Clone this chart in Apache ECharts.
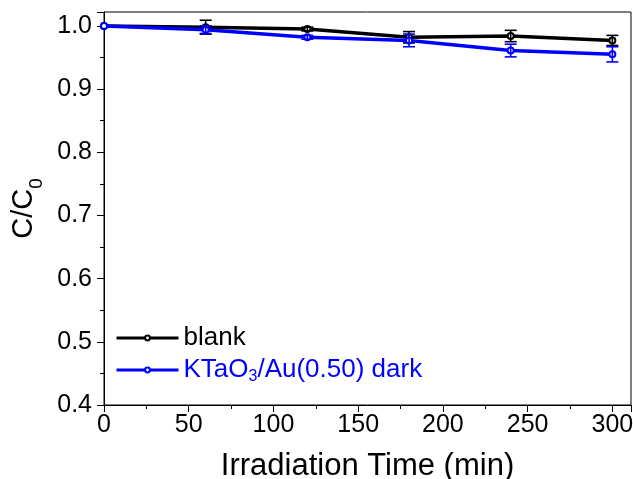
<!DOCTYPE html>
<html>
<head>
<meta charset="utf-8">
<script src="https://cdn.jsdelivr.net/npm/echarts@6/dist/echarts.min.js"></script>
<style>html,body{margin:0;padding:0;background:#fff}#c{width:633px;height:479px}</style>
</head>
<body>
<div id="c"></div>
<script>
const times = [0, 60, 120, 180, 240, 300];
const blankValues = [1.000, 0.998, 0.995, 0.982, 0.984, 0.977];
const blankErrors = [0.000, 0.011, 0.003, 0.009, 0.009, 0.008];
const ktaoValues = [1.000, 0.994, 0.982, 0.977, 0.961, 0.955];
const ktaoErrors = [0.000, 0.006, 0.003, 0.010, 0.010, 0.012];
const xTicks = [0, 50, 100, 150, 200, 250, 300];
const yTicks = [0.4, 0.5, 0.6, 0.7, 0.8, 0.9, 1.0];

const FONT = 'Arial, "Liberation Sans", sans-serif';
const BLUE = '#0000ff';
const BLACK = '#000000';

function pairs(xs, ys) { return xs.map((x, i) => [x, ys[i]]); }
function errTriples(xs, ys, es) { return xs.map((x, i) => [x, ys[i], es[i]]); }

function errRender(color) {
  return function (params, api) {
    const x = api.value(0), y = api.value(1), e = api.value(2);
    if (!e) return null;
    const top = api.coord([x, y + e]);
    const bot = api.coord([x, y - e]);
    const h = 6;
    const st = { stroke: color, lineWidth: 1.6 };
    return {
      type: 'group',
      children: [
        { type: 'line', shape: { x1: top[0], y1: top[1], x2: bot[0], y2: bot[1] }, style: st },
        { type: 'line', shape: { x1: top[0] - h, y1: top[1], x2: top[0] + h, y2: top[1] }, style: st },
        { type: 'line', shape: { x1: bot[0] - h, y1: bot[1], x2: bot[0] + h, y2: bot[1] }, style: st }
      ]
    };
  };
}

const chart = echarts.init(document.getElementById('c'), null, { renderer: 'canvas' });
const axisCommon = {
  axisLine: { show: true, onZero: false, lineStyle: { color: BLACK, width: 1 } },
  axisTick: { show: true, inside: false, length: 7, lineStyle: { color: BLACK, width: 1 } },
  minorTick: { show: true, splitNumber: 2, length: 4, lineStyle: { color: BLACK, width: 1 } },
  splitLine: { show: false },
  axisLabel: { color: BLACK, fontFamily: FONT, fontSize: 25, showMaxLabel: false }
};

chart.setOption({
  animation: false,
  backgroundColor: '#fff',
  grid: { left: 104, right: 2, top: 12, bottom: 74, show: true, borderColor: BLACK, borderWidth: 1,
          containLabel: false, outerBoundsMode: 'none' },
  xAxis: Object.assign({}, axisCommon, {
    type: 'value', min: 0, max: 311, interval: 50,
    name: 'Irradiation Time (min)', nameLocation: 'middle', nameGap: 46,
    nameTextStyle: { color: BLACK, fontFamily: FONT, fontSize: 31 },
    axisLabel: Object.assign({}, axisCommon.axisLabel, { margin: 8,
      formatter: v => xTicks.indexOf(v) >= 0 ? String(v) : '' })
  }),
  yAxis: Object.assign({}, axisCommon, {
    type: 'value', min: 0.4, max: 1.022, interval: 0.1,
    name: '{a|C/C}{b|0}', nameLocation: 'middle', nameGap: 54,
    nameTextStyle: { color: BLACK, fontFamily: FONT, fontSize: 29,
      rich: { a: { fontFamily: FONT, fontSize: 29, color: BLACK, verticalAlign: 'top' },
              b: { fontFamily: FONT, fontSize: 19, color: BLACK, verticalAlign: 'top', padding: [18, 0, 0, 0] } } },
    axisLabel: Object.assign({}, axisCommon.axisLabel, { margin: 12,
      formatter: v => { const f = yTicks.find(t => Math.abs(t - v) < 1e-6); return f !== undefined ? f.toFixed(1) : ''; } })
  }),
  legend: {
    orient: 'vertical', left: 110, top: 320, itemGap: 6, itemWidth: 62, itemHeight: 6,
    textStyle: { fontFamily: FONT, fontSize: 26 },
    lineStyle: { width: 3 },
    data: [
      { name: 'blank', textStyle: { color: BLACK } },
      { name: 'KTaO3/Au(0.50) dark', textStyle: { color: BLUE,
        rich: { n: { color: BLUE, fontFamily: FONT, fontSize: 26 },
                s: { color: BLUE, fontFamily: FONT, fontSize: 16, verticalAlign: 'bottom', padding: [13, 0, 0, 0] } } } }
    ],
    formatter: name => name === 'KTaO3/Au(0.50) dark' ? '{n|KTaO}{s|3}{n|/Au(0.50) dark}' : name
  },
  series: [
    { name: 'blank', type: 'line', data: pairs(times, blankValues), z: 3,
      lineStyle: { color: BLACK, width: 3.5 }, itemStyle: { color: BLACK, borderColor: BLACK, borderWidth: 2 },
      symbol: 'emptyCircle', symbolSize: 6 },
    { name: 'blankErr', type: 'custom', data: errTriples(times, blankValues, blankErrors), z: 4,
      renderItem: errRender(BLACK), encode: { x: 0, y: 1 } },
    { name: 'KTaO3/Au(0.50) dark', type: 'line', data: pairs(times, ktaoValues), z: 5,
      lineStyle: { color: BLUE, width: 3.5 }, itemStyle: { color: BLUE, borderColor: BLUE, borderWidth: 2 },
      symbol: 'emptyCircle', symbolSize: 6 },
    { name: 'ktaoErr', type: 'custom', data: errTriples(times, ktaoValues, ktaoErrors), z: 6,
      renderItem: errRender(BLUE), encode: { x: 0, y: 1 } }
  ]
});
</script>
</body>
</html>
